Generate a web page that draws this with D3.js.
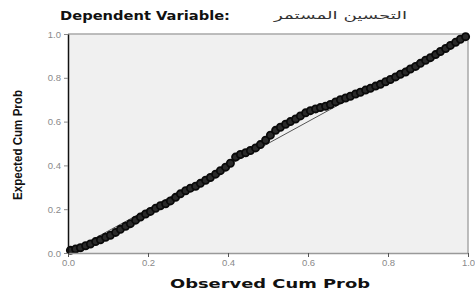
<!DOCTYPE html>
<html>
<head>
<meta charset="utf-8">
<script src="https://cdn.jsdelivr.net/npm/d3@7"></script>
<style>
  body { margin: 0; background: #fff; }
  svg { display: block; }
  .tick text { fill: #8a8a8a; font-family: "Liberation Sans", Arial, sans-serif; font-size: 9.5px; }
</style>
</head>
<body>
<svg width="475" height="293"></svg>
<script>
// Chart size and plot box
const width = 475;
const height = 293;
const margin = { top: 34, right: 5, bottom: 40, left: 68 };

// Tick values
const xTicks = [0, 0.2, 0.4, 0.6, 0.8, 1.0];
const yTicks = [0, 0.2, 0.4, 0.6, 0.8, 1.0];
const xTickLabels = ["0.0", "0.2", "0.4", "0.6", "0.8", "1.0"];
const yTickLabels = ["0.0", "0.2", "0.4", "0.6", "0.8", "1.0"];

// Observed cumulative probabilities
const observed = [
  0.006, 0.019, 0.031, 0.044, 0.056, 0.069, 0.081, 0.094, 0.106, 0.119,
  0.131, 0.144, 0.156, 0.169, 0.181, 0.194, 0.206, 0.219, 0.231, 0.244,
  0.256, 0.269, 0.281, 0.294, 0.306, 0.319, 0.331, 0.344, 0.356, 0.369,
  0.381, 0.394, 0.406, 0.419, 0.431, 0.444, 0.456, 0.469, 0.481, 0.494,
  0.506, 0.519, 0.531, 0.544, 0.556, 0.569, 0.581, 0.594, 0.606, 0.619,
  0.631, 0.644, 0.656, 0.669, 0.681, 0.694, 0.706, 0.719, 0.731, 0.744,
  0.756, 0.769, 0.781, 0.794, 0.806, 0.819, 0.831, 0.844, 0.856, 0.869,
  0.881, 0.894, 0.906, 0.919, 0.931, 0.944, 0.956, 0.969, 0.981, 0.994
];

// Expected cumulative probabilities
const expected = [
  0.012, 0.018, 0.024, 0.033, 0.041, 0.052, 0.060, 0.072, 0.081, 0.094,
  0.108, 0.122, 0.134, 0.150, 0.164, 0.178, 0.190, 0.204, 0.216, 0.225,
  0.238, 0.254, 0.270, 0.284, 0.296, 0.305, 0.318, 0.332, 0.345, 0.360,
  0.376, 0.392, 0.410, 0.438, 0.450, 0.458, 0.468, 0.480, 0.495, 0.515,
  0.538, 0.560, 0.574, 0.588, 0.600, 0.612, 0.626, 0.640, 0.650, 0.658,
  0.664, 0.670, 0.678, 0.690, 0.700, 0.708, 0.716, 0.726, 0.734, 0.744,
  0.752, 0.762, 0.770, 0.782, 0.792, 0.804, 0.816, 0.826, 0.840, 0.852,
  0.866, 0.880, 0.892, 0.906, 0.920, 0.934, 0.948, 0.962, 0.976, 0.988
];

const data = observed.map((d, i) => ({ obs: d, exp: expected[i] }));

const svg = d3.select("svg");

// Scales
const xScale = d3.scaleLinear()
    .domain([0, 1])
    .range([margin.left, width - margin.right - 2]);

const yScale = d3.scaleLinear()
    .domain([0, 1])
    .range([height - margin.bottom, margin.top]);

// Plot background
svg.append("rect")
    .attr("x", xScale(0))
    .attr("y", yScale(1))
    .attr("width", xScale(1) - xScale(0))
    .attr("height", yScale(0) - yScale(1))
    .attr("fill", "#f0f0f0")
    .attr("stroke", "none");

// Top and right frame
svg.append("path")
    .attr("d", `M${xScale(0)},${yScale(1)}H${xScale(1)}V${yScale(0)}`)
    .attr("fill", "none")
    .attr("stroke", "#a8a8a8")
    .attr("stroke-width", 1.5);

// Reference diagonal
svg.append("line")
    .attr("x1", xScale(0))
    .attr("y1", yScale(0))
    .attr("x2", xScale(1))
    .attr("y2", yScale(1))
    .attr("stroke", "#555")
    .attr("stroke-width", 1);

// Points
svg.selectAll(".pt")
    .data(data)
    .enter()
    .append("circle")
    .attr("class", "pt")
    .attr("cx", d => xScale(d.obs))
    .attr("cy", d => yScale(d.exp))
    .attr("r", 3.6)
    .attr("fill", "#2a2a2a")
    .attr("stroke", "#0a0a0a")
    .attr("stroke-width", 1.8);

// X axis
const xAxis = svg.append("g")
    .attr("transform", `translate(0, ${yScale(0)})`)
    .call(d3.axisBottom(xScale)
        .tickValues(xTicks)
        .tickFormat((d, i) => xTickLabels[i])
        .tickSize(4)
        .tickSizeOuter(0));
xAxis.select(".domain").attr("stroke", "#999").attr("stroke-width", 1.5);
xAxis.selectAll(".tick line").attr("stroke", "#555");
xAxis.selectAll(".tick text").attr("dy", "0.6em");

// Y axis
const yAxis = svg.append("g")
    .attr("transform", `translate(${xScale(0)}, 0)`)
    .call(d3.axisLeft(yScale)
        .tickValues(yTicks)
        .tickFormat((d, i) => yTickLabels[i])
        .tickSize(4)
        .tickSizeOuter(0));
yAxis.select(".domain").attr("stroke", "#111").attr("stroke-width", 1.5);
yAxis.selectAll(".tick line").attr("stroke", "#888");

// Title
svg.append("text")
    .attr("x", 60)
    .attr("y", 20)
    .attr("textLength", 170)
    .attr("lengthAdjust", "spacingAndGlyphs")
    .style("font-family", "'DejaVu Sans', sans-serif")
    .style("font-weight", "bold")
    .style("font-size", "13px")
    .attr("fill", "#111")
    .text("Dependent Variable:");

svg.append("text")
    .attr("x", 274)
    .attr("y", 19)
    .attr("textLength", 133)
    .attr("lengthAdjust", "spacingAndGlyphs")
    .style("font-family", "'DejaVu Sans', sans-serif")
    .style("font-size", "11px")
    .attr("fill", "#333")
    .text("التحسين المستمر");

// X axis label
svg.append("text")
    .attr("x", 170)
    .attr("y", 288)
    .attr("textLength", 200)
    .attr("lengthAdjust", "spacingAndGlyphs")
    .style("font-family", "'DejaVu Sans', sans-serif")
    .style("font-weight", "bold")
    .style("font-size", "13px")
    .attr("fill", "#111")
    .text("Observed Cum Prob");

// Y axis label
svg.append("text")
    .attr("transform", "rotate(-90)")
    .attr("x", -200)
    .attr("y", 22)
    .attr("textLength", 110)
    .attr("lengthAdjust", "spacingAndGlyphs")
    .style("font-family", "'Liberation Sans Narrow', 'Liberation Sans', sans-serif")
    .style("font-weight", "bold")
    .style("font-size", "13px")
    .attr("fill", "#111")
    .text("Expected Cum Prob");
</script>
</body>
</html>
